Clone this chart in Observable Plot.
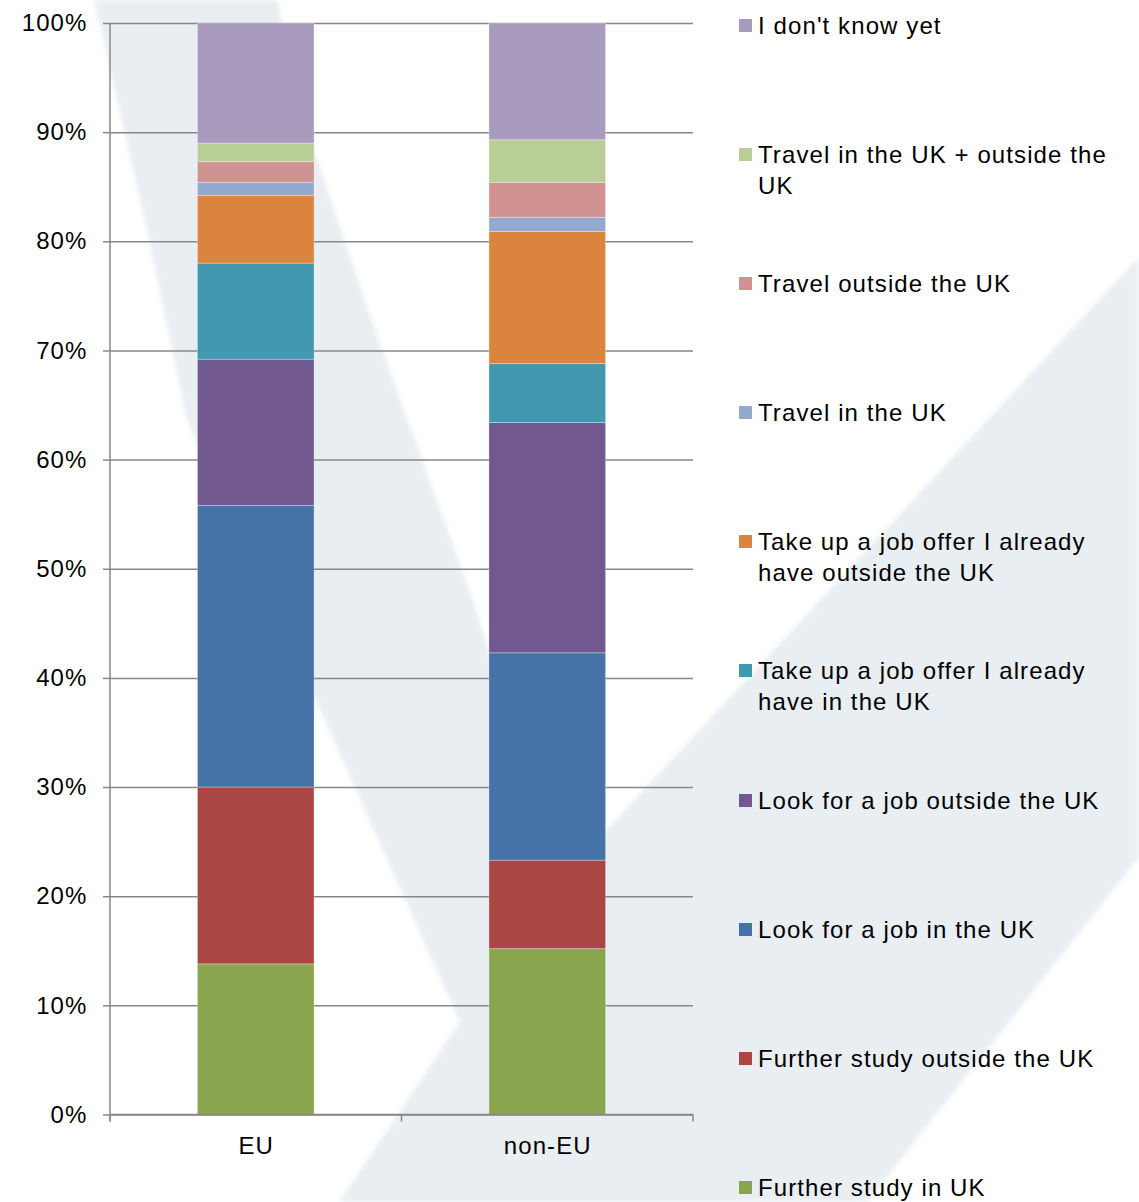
<!DOCTYPE html>
<html>
<head>
<meta charset="utf-8">
<script src="https://cdn.jsdelivr.net/npm/d3@7"></script>
<script src="https://cdn.jsdelivr.net/npm/@observablehq/plot@0.6"></script>
<style>
html, body { margin: 0; padding: 0; background: #fff; overflow: hidden; }
#wrap { position: relative; width: 1139px; height: 1202px; overflow: hidden; font-family: "Liberation Sans", Arial, sans-serif; }
#bg { position: absolute; left: 0; top: 0; }
#chart { position: absolute; left: 0; top: 0; }
#legend { position: absolute; left: 739px; top: 9.5px; }
.item { height: 129.2px; position: relative; width: 400px; }
.sw { position: absolute; left: 0; top: 9px; width: 13px; height: 13px; }
.lab { position: absolute; left: 19px; top: 0; font-size: 24px; line-height: 31px; letter-spacing: 1.1px; color: #000; white-space: pre; }
</style>
</head>
<body>
<div id="wrap">
  <!-- faint background watermark (decoration only) -->
  <svg id="bg" width="1139" height="1202">
    <defs><filter id="soft"><feGaussianBlur stdDeviation="2.5"/></filter></defs>
    <polygon filter="url(#soft)" fill="#e9eef2"
      points="94,0 277,0 312,145 380,344 473,600 560,880 1139,257 1139,857 867,1202 339,1202 460,1022 314,696 250,560 187,421 147,230"/>
  </svg>
  <div id="chart"></div>
  <div id="legend"></div>
</div>
<script>
// ---- data ----
const categories = ["EU", "non-EU"];
const series = [
  "Further study in UK",
  "Further study outside the UK",
  "Look for a job in the UK",
  "Look for a job outside the UK",
  "Take up a job offer I already have in the UK",
  "Take up a job offer I already have outside the UK",
  "Travel in the UK",
  "Travel outside the UK",
  "Travel in the UK + outside the UK",
  "I don't know yet"
];
const legendText = [
  "Further study in UK",
  "Further study outside the UK",
  "Look for a job in the UK",
  "Look for a job outside the UK",
  "Take up a job offer I already\nhave in the UK",
  "Take up a job offer I already\nhave outside the UK",
  "Travel in the UK",
  "Travel outside the UK",
  "Travel in the UK + outside the\nUK",
  "I don't know yet"
];
const euValues    = [13.8, 16.2, 25.8, 13.4, 8.8, 6.2, 1.2, 1.9, 1.7, 11.0];
const nonEuValues = [15.2, 8.1, 19.0, 21.1, 5.4, 12.1, 1.3, 3.2, 3.9, 10.7];
const colors = ["#89a54e", "#aa4643", "#4572a7", "#71588f", "#4198af",
                "#db843d", "#93a9cf", "#d19392", "#b9cd96", "#a99bbd"];
const yTicks = [0, 10, 20, 30, 40, 50, 60, 70, 80, 90, 100];

// ---- table ----
const valuesByCategory = [euValues, nonEuValues];
const table = [];
categories.forEach((c, ci) => {
  series.forEach((s, si) => table.push({category: c, series: s, value: valuesByCategory[ci][si]}));
});

const axisColor = "#878787";

// axis lines + category boundary ticks, positioned from the scales
function axisFrame(index, scales, values, dims) {
  const x = scales.x, y = scales.y;
  const bw = x.bandwidth();
  const step = x.step ? x.step() : bw / 0.4;
  const gap = (step - bw) / 2;
  const edges = categories.map(c => x(c) - gap);
  edges.push(x(categories[categories.length - 1]) + bw + gap);
  const y0 = y(0), y1 = y(100);
  const g = d3.create("svg:g").attr("stroke", axisColor).attr("stroke-width", 1.5).attr("fill", "none");
  g.append("line").attr("x1", edges[0]).attr("x2", edges[0]).attr("y1", y1).attr("y2", y0 + 7);
  g.append("line").attr("x1", edges[0]).attr("x2", edges[edges.length - 1]).attr("y1", y0).attr("y2", y0);
  for (const e of edges) g.append("line").attr("x1", e).attr("x2", e).attr("y1", y0).attr("y2", y0 + 7);
  return g.node();
}

const chart = Plot.plot({
  width: 1139,
  height: 1202,
  marginTop: 23,
  marginBottom: 87.5,
  marginLeft: 110,
  marginRight: 446,
  style: {background: "transparent", fontFamily: "Liberation Sans, Arial, sans-serif", fontSize: "24px", letterSpacing: "1.1px", color: "black"},
  x: {domain: categories, paddingInner: 0.6, paddingOuter: 0.3, round: false},
  y: {domain: [0, 100]},
  color: {domain: series, range: colors},
  marks: [
    Plot.gridY(yTicks, {stroke: axisColor, strokeOpacity: 1, strokeWidth: 1.5}),
    Plot.barY(table, {x: "category", y: "value", fill: "series", stroke: "white", strokeOpacity: 0.3, strokeWidth: 1}),
    Plot.axisY(yTicks, {tickSize: 7, tickPadding: 16, tickFormat: d => d + "%", stroke: axisColor, strokeWidth: 1.5, fill: "black", fontSize: 24, label: null}),
    Plot.axisX({tickSize: 0, tickPadding: 22, fill: "black", fontSize: 24, label: null}),
    axisFrame
  ]
});
document.getElementById("chart").appendChild(chart);

// ---- legend (top to bottom = reverse stack order) ----
const legend = d3.select("#legend");
const order = d3.range(series.length).reverse();
for (const i of order) {
  const it = legend.append("div").attr("class", "item");
  it.append("div").attr("class", "sw").style("background", colors[i]);
  it.append("div").attr("class", "lab").text(legendText[i]);
}
</script>
</body>
</html>
